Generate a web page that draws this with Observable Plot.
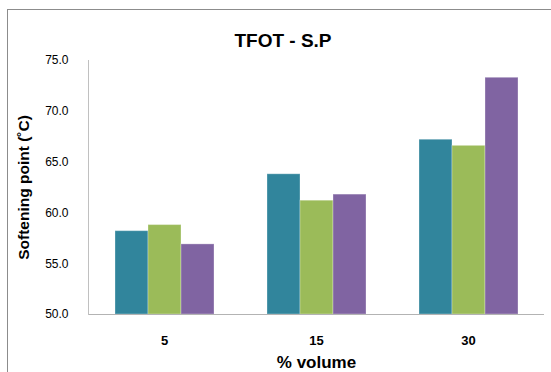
<!DOCTYPE html>
<html>
<head>
<meta charset="utf-8">
<script src="https://cdn.jsdelivr.net/npm/d3@7"></script>
<script src="https://cdn.jsdelivr.net/npm/@observablehq/plot@0.6"></script>
<style>
  html, body { margin: 0; padding: 0; background: #fff; }
  #wrap { position: relative; width: 551px; height: 372px; overflow: hidden; font-family: "Liberation Sans", Arial, sans-serif; }
  #border { position: absolute; left: 7px; top: 9px; width: 600px; height: 400px; border-left: 1px solid #8c8c8c; border-top: 1px solid #8c8c8c; }
  #title { position: absolute; left: 0; width: 566px; top: 29px; text-align: center; font-size: 19px; font-weight: bold; color: #000; line-height: 24px; }
  #chart { position: absolute; left: 0; top: 0; }
  #chart svg { font-family: "Liberation Sans", Arial, sans-serif; color: #000; background: transparent; }
  [aria-label="y-axis label"] { font-weight: bold; font-size: 15.5px; }
  [aria-label="fx-axis tick label"] { font-weight: bold; }
  [aria-label="fx-axis label"] { font-weight: bold; font-size: 17px; }
</style>
</head>
<body>
<div id="wrap">
  <div id="border"></div>
  <div id="chart"></div>
  <div id="title">TFOT - S.P</div>
</div>
<script>
const categories = ["5", "15", "30"];
const seriesNames = ["Series 1", "Series 2", "Series 3"];
const series1 = [58.2, 63.8, 67.2];
const series2 = [58.8, 61.2, 66.6];
const series3 = [56.9, 61.8, 73.3];
const seriesColors = ["#31859C", "#9BBB59", "#8064A2"];
const yTicks = [50, 55, 60, 65, 70, 75];

const allSeries = [series1, series2, series3];
const data = [];
categories.forEach((c, i) => {
  seriesNames.forEach((s, j) => {
    data.push({cat: c, series: s, value: allSeries[j][i]});
  });
});

const chart = Plot.plot({
  width: 551,
  height: 372,
  marginTop: 60,
  marginBottom: 58,
  marginLeft: 87,
  marginRight: 7,
  style: {background: "transparent"},
  fx: {domain: categories, padding: 0},
  x: {domain: seriesNames, paddingInner: 0, paddingOuter: 0.75, axis: null},
  y: {domain: [yTicks[0], yTicks[yTicks.length - 1]]},
  color: {domain: seriesNames, range: seriesColors},
  marks: [
    Plot.barY(data, {fx: "cat", x: "series", y1: yTicks[0], y2: "value", fill: "series", stroke: "#fff", strokeOpacity: 0.3, strokeWidth: 1, inset: 0}),
    Plot.ruleY([yTicks[0]], {stroke: "#b3b3b3", strokeWidth: 1.2}),
    Plot.frame({anchor: "left", facetAnchor: "left", stroke: "#c0c0c0"}),
    Plot.axisY({ticks: yTicks, tickFormat: d => d.toFixed(1), tickSize: 0, tickPadding: 20, fontSize: 12,
      label: "Softening point (˚C)", labelAnchor: "center", labelArrow: "none", labelOffset: 71}),
    Plot.axisFx({anchor: "bottom", tickSize: 0, tickPadding: 21, fontSize: 13,
      label: "% volume", labelAnchor: "center", labelArrow: "none", labelOffset: 53})
  ]
});
document.getElementById("chart").appendChild(chart);
</script>
</body>
</html>
